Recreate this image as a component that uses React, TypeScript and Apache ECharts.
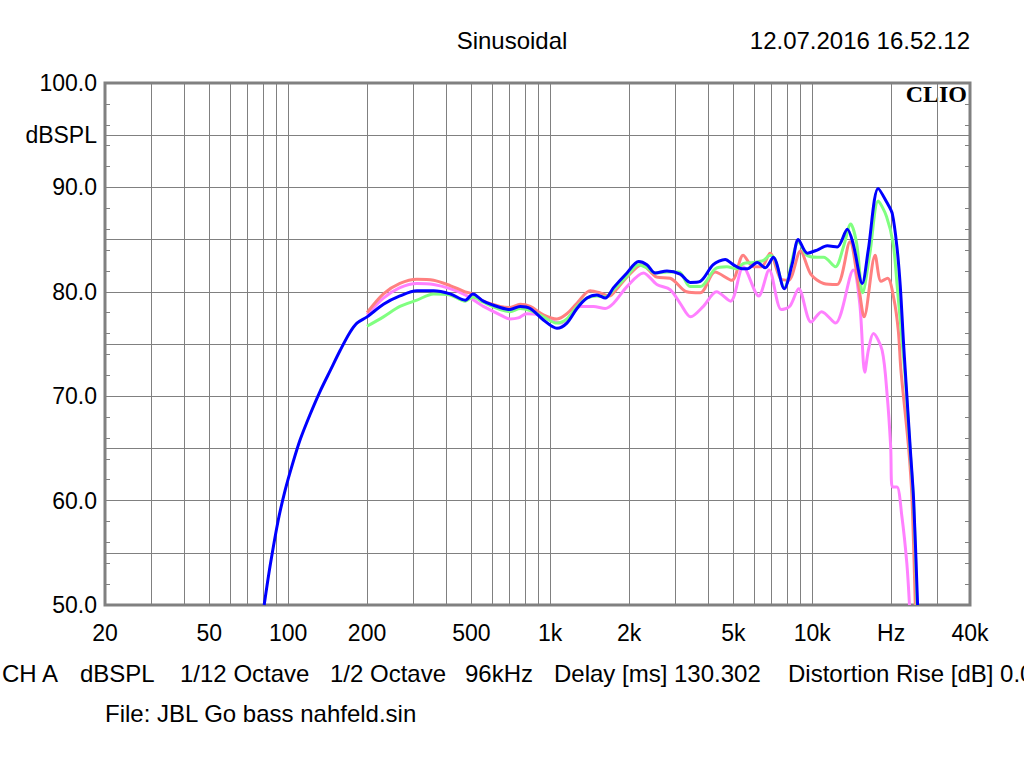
import React, { useEffect, useRef } from 'react';
import * as echarts from 'echarts';

// Frequency grid (Hz) and axis labels
const gridFreqs = [
  20, 30, 40, 50, 60, 70, 80, 90, 100, 200, 300, 400, 500, 600, 700, 800, 900,
  1000, 2000, 3000, 4000, 5000, 6000, 7000, 8000, 9000, 10000, 20000, 30000, 40000,
];
const labelFreqs = [20, 50, 100, 200, 500, 1000, 2000, 5000, 10000, 20000, 40000];
const labelTexts = ['20', '50', '100', '200', '500', '1k', '2k', '5k', '10k', 'Hz', '40k'];

// Blue curve
const blueFreq = [81, 85.4, 91.6, 97.4, 103.6, 111, 121, 132, 145, 158, 172, 183, 200, 231, 267, 310, 359, 415, 474, 507, 556, 644, 703, 768, 839, 942, 1061, 1158, 1265, 1381, 1508, 1622, 1745, 1963, 2174, 2339, 2518, 2789, 3133, 3420, 3738, 4190, 4656, 4993, 5402, 5648, 6168, 6618, 7101, 7820, 8390, 8850, 9574, 10450, 11410, 12460, 13610, 14330, 15520, 16360, 17860, 19330, 20200, 21050, 21680, 22300, 22640, 23660, 24370, 25240];
const blueDb = [50.0, 53.8, 58.1, 61.0, 63.4, 65.8, 68.2, 70.4, 72.5, 74.4, 76.1, 77.0, 77.6, 78.8, 79.6, 80.1, 80.1, 79.8, 79.2, 79.8, 79.1, 78.5, 78.3, 78.6, 78.4, 77.3, 76.5, 77.0, 78.4, 79.4, 79.7, 79.4, 80.4, 81.8, 82.9, 82.6, 81.8, 82.0, 81.7, 80.9, 81.0, 82.6, 83.1, 82.6, 82.2, 82.2, 82.8, 82.3, 83.3, 80.3, 82.7, 85.0, 83.7, 84.0, 84.4, 84.3, 86.0, 84.6, 80.8, 84.0, 89.9, 88.5, 87.5, 84.3, 80.5, 75.1, 72.5, 65.0, 60.1, 50.0];

// Green curve
const greenFreq = [200, 231, 267, 310, 359, 415, 474, 507, 556, 644, 703, 768, 839, 942, 1061, 1158, 1265, 1381, 1508, 1622, 1745, 1963, 2174, 2339, 2518, 2789, 3100, 3420, 3738, 4260, 4723, 5145, 5449, 5960, 6518, 6903, 7209, 7820, 8875, 9545, 10430, 11050, 12250, 13150, 14020, 14780, 15570, 16600, 17860, 19220, 20370, 21100, 21980, 22640, 23660, 24370, 25100];
const greenDb = [76.7, 77.6, 78.6, 79.2, 79.8, 79.7, 79.1, 79.5, 79.0, 78.3, 78.1, 78.4, 78.2, 77.6, 77.0, 77.4, 78.6, 79.4, 79.6, 79.5, 80.2, 81.5, 82.6, 82.3, 81.8, 81.9, 81.9, 80.5, 80.5, 82.2, 82.4, 82.2, 82.7, 82.8, 83.0, 83.5, 83.1, 80.4, 84.8, 83.5, 83.3, 83.3, 82.4, 84.3, 86.5, 84.6, 79.9, 83.7, 88.7, 87.2, 84.6, 80.5, 75.5, 71.8, 64.6, 59.8, 50.0];

// Red curve
const redFreq = [200, 231, 267, 310, 359, 415, 474, 507, 556, 644, 703, 768, 839, 942, 1061, 1158, 1265, 1421, 1552, 1680, 1800, 1963, 2239, 2553, 2871, 3315, 3738, 4260, 4938, 5449, 5960, 6400, 6903, 7545, 8120, 9017, 9870, 11050, 12430, 13930, 14980, 15780, 17380, 18300, 19400, 20500, 21300, 21800, 23330, 24030, 24730];
const redDb = [78.0, 79.8, 80.8, 81.2, 81.1, 80.6, 80.0, 79.8, 79.1, 78.6, 78.5, 78.8, 78.6, 77.8, 77.4, 77.9, 78.9, 80.1, 79.9, 79.6, 80.3, 81.4, 82.6, 81.4, 81.3, 80.0, 79.9, 81.9, 81.1, 83.5, 82.4, 82.4, 83.7, 81.3, 81.1, 83.9, 81.7, 80.8, 80.7, 84.8, 80.8, 77.6, 83.5, 81.0, 81.3, 79.3, 76.3, 72.5, 65.0, 60.1, 50.0];

// Magenta curve
const magentaFreq = [200, 231, 267, 310, 359, 415, 474, 556, 644, 703, 755, 814, 900, 1000, 1092, 1192, 1302, 1463, 1622, 1745, 1963, 2270, 2553, 2871, 3133, 3436, 3841, 4312, 4877, 5449, 6248, 6846, 7620, 8207, 8875, 9900, 10860, 12250, 14350, 15180, 15870, 16400, 17110, 18480, 19330, 19920, 20220, 21050, 21980, 22960, 23500];
const magentaDb = [77.8, 79.4, 80.4, 80.8, 80.7, 80.3, 79.7, 78.6, 77.8, 77.4, 77.5, 77.9, 77.8, 77.3, 77.0, 77.6, 78.6, 78.6, 78.4, 78.9, 80.5, 81.8, 80.7, 80.2, 78.9, 77.6, 78.6, 80.0, 79.1, 82.4, 79.6, 82.1, 78.3, 78.6, 80.3, 77.1, 78.1, 77.0, 82.1, 78.9, 72.3, 74.5, 76.0, 74.4, 70.0, 65.2, 61.3, 61.3, 58.5, 54.0, 50.0];

const footerItems = ['CH A', 'dBSPL', '1/12 Octave', '1/2 Octave', '96kHz', 'Delay [ms] 130.302', 'Distortion Rise [dB] 0.0'];
const footerX = [2, 80, 180, 330, 465, 554, 788];

const FONT = '"Liberation Sans", Arial, sans-serif';
const GRAY = '#808080';

const toPts = (f: number[], d: number[]) => f.map((v, i) => [Math.log10(v), d[i]]);

export default function App() {
  const ref = useRef<HTMLDivElement>(null);
  useEffect(() => {
    const chart = echarts.init(ref.current!, null, { renderer: 'svg' });
    const xMin = Math.log10(20);
    const xMax = Math.log10(40000);
    const fmtX = (v: number) => {
      const f = Math.pow(10, v);
      const i = labelFreqs.findIndex((x) => Math.abs(x - f) / x < 0.001);
      return i >= 0 ? labelTexts[i] : '';
    };
    const gridBox = { left: 105, top: 83, right: 54, bottom: 163 };
    const mkLine = (name: string, f: number[], d: number[], color: string, w: number) => ({
      type: 'line',
      name,
      data: toPts(f, d),
      showSymbol: false,
      smooth: 0.3,
      lineStyle: { color, width: w },
      itemStyle: { color },
      xAxisIndex: 0,
      yAxisIndex: 0,
    });
    const textEl = (text: string, x: number, y: number, align: string, extra: any = {}) => ({
      type: 'text',
      x,
      y,
      style: {
        text,
        fill: '#000',
        font: `24px ${FONT}`,
        textAlign: align,
        textVerticalAlign: 'middle',
        ...extra,
      },
    });
    chart.setOption({
      animation: false,
      backgroundColor: '#fff',
      grid: [
        { ...gridBox, show: true, borderColor: GRAY, borderWidth: 3, backgroundColor: 'transparent' },
        { ...gridBox, show: false },
      ],
      xAxis: [
        {
          type: 'value',
          gridIndex: 0,
          min: xMin,
          max: xMax,
          axisLine: { show: false },
          axisTick: { show: false, customValues: gridFreqs.map((f) => Math.log10(f)) },
          splitLine: { show: true, lineStyle: { color: GRAY, width: 1 } },
          axisLabel: {
            customValues: labelFreqs.map((f) => Math.log10(f)),
            formatter: fmtX,
            fontSize: 23,
            fontFamily: FONT,
            color: '#000',
            margin: 16,
          },
        },
        {
          type: 'value',
          gridIndex: 1,
          min: xMin,
          max: xMax,
          show: false,
        },
      ],
      yAxis: [
        {
          type: 'value',
          gridIndex: 0,
          min: 50,
          max: 100,
          interval: 5,
          position: 'left',
          axisLine: { show: false },
          axisTick: { show: false },
          splitLine: { show: true, lineStyle: { color: GRAY, width: 1 } },
          axisLabel: {
            formatter: (v: number) => (v % 10 === 0 ? v.toFixed(1) : v === 95 ? 'dBSPL' : ''),
            fontSize: 23,
            fontFamily: FONT,
            color: '#000',
            margin: 8,
          },
        },
        {
          type: 'value',
          gridIndex: 1,
          min: 50,
          max: 100,
          interval: 2,
          position: 'left',
          axisLine: { show: false },
          axisLabel: { show: false },
          splitLine: { show: false },
          axisTick: { show: true, inside: true, length: 5, lineStyle: { color: GRAY, width: 1 } },
        },
        {
          type: 'value',
          gridIndex: 1,
          min: 50,
          max: 100,
          interval: 2,
          position: 'right',
          axisLine: { show: false },
          axisLabel: { show: false },
          splitLine: { show: false },
          axisTick: { show: true, inside: true, length: 5, lineStyle: { color: GRAY, width: 1 } },
        },
      ],
      series: [
        mkLine('magenta', magentaFreq, magentaDb, '#ff80ff', 3),
        mkLine('red', redFreq, redDb, '#ff8080', 3),
        mkLine('green', greenFreq, greenDb, '#80ff80', 3),
        mkLine('blue', blueFreq, blueDb, '#0000ff', 3),
      ],
      graphic: [
        textEl('Sinusoidal', 512, 40, 'center'),
        textEl('12.07.2016 16.52.12', 970, 40, 'right'),
        textEl('CLIO', 967, 94, 'right', { font: `bold 24px "Liberation Serif", "Times New Roman", serif` }),
        ...footerItems.map((t, i) => textEl(t, footerX[i], 673, 'left')),
        textEl('File: JBL Go bass nahfeld.sin', 105, 713, 'left'),
      ],
    });
    return () => chart.dispose();
  }, []);
  return <div ref={ref} style={{ position: 'absolute', left: 0, top: 0, width: 1024, height: 768 }} />;
}
